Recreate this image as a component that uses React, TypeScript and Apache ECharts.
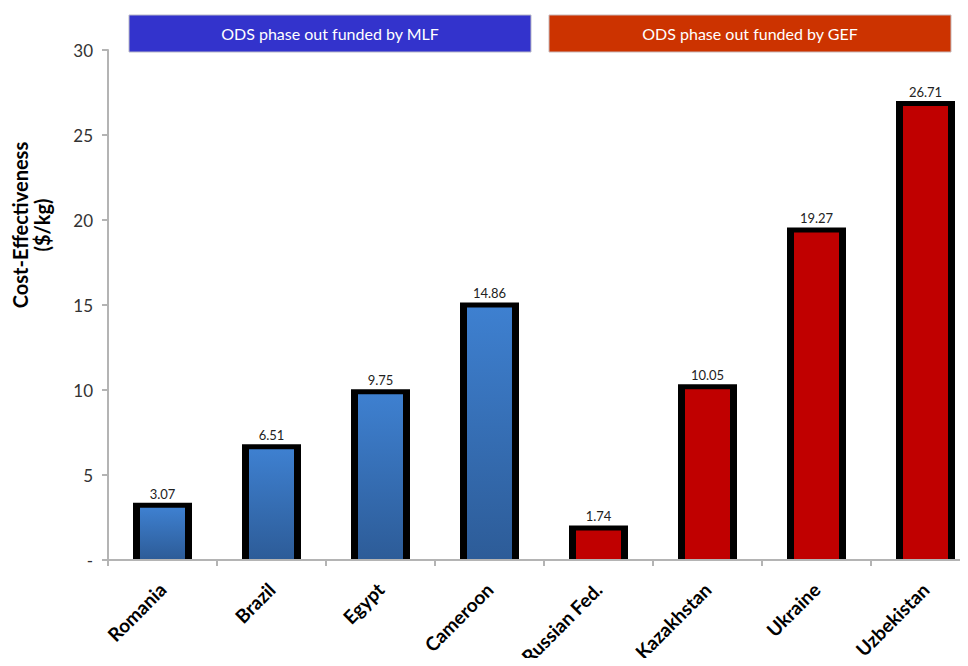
import React, { useEffect, useRef } from "react";
import * as echarts from "echarts";

const countries = ["Romania", "Brazil", "Egypt", "Cameroon", "Russian Fed.", "Kazakhstan", "Ukraine", "Uzbekistan"];
const costEffectiveness = [3.07, 6.51, 9.75, 14.86, 1.74, 10.05, 19.27, 26.71];
const fundingSource = ["MLF", "MLF", "MLF", "MLF", "GEF", "GEF", "GEF", "GEF"];
const bannerTexts = ["ODS phase out funded by MLF", "ODS phase out funded by GEF"];
const yTitle = "Cost-Effectiveness\n($/kg)";

const FONT = "Lato, 'Open Sans', sans-serif";

export default function App() {
  const ref = useRef<HTMLDivElement>(null);

  useEffect(() => {
    if (!ref.current) return;
    const chart = echarts.init(ref.current, null, { renderer: "svg" });

    const blueFill = () =>
      new echarts.graphic.LinearGradient(0, 0, 0, 1, [
        { offset: 0, color: "#3e80d0" },
        { offset: 1, color: "#2d5c98" },
      ]);
    const redFill = "#c00000";

    // Bars with a black frame on the left, top and right sides only
    const renderBar = (params: any, api: any) => {
      const idx = api.value(0);
      const v = api.value(1);
      const top = api.coord([idx, v]);
      const base = api.coord([idx, 0]);
      const outerW = 59;
      const frame = 7;
      const fill = fundingSource[params.dataIndex] === "MLF" ? blueFill() : redFill;
      return {
        type: "group",
        children: [
          {
            type: "rect",
            shape: { x: top[0] - outerW / 2, y: top[1] - 5, width: outerW, height: base[1] - top[1] + 6 },
            style: { fill: "#000000" },
          },
          {
            type: "rect",
            shape: {
              x: top[0] - outerW / 2 + frame,
              y: top[1],
              width: outerW - 2 * frame,
              height: base[1] - top[1] - 1,
            },
            style: { fill },
          },
          {
            type: "text",
            x: top[0],
            y: top[1] - 14,
            style: {
              text: v.toFixed(2),
              fill: "#222222",
              font: `13px ${FONT}`,
              align: "center",
              verticalAlign: "middle",
            },
          },
        ],
      };
    };

    chart.setOption({
      animation: false,
      backgroundColor: "#ffffff",
      grid: { left: 108, right: -12, top: 50, bottom: 106, containLabel: false, outerBoundsMode: "none" },
      graphic: [
        {
          type: "rect",
          shape: { x: 129, y: 15, width: 402, height: 37 },
          style: { fill: "#3333cc", stroke: "#b8b8c8", lineWidth: 1 },
          z: 10,
        },
        {
          type: "text",
          x: 330,
          y: 33.5,
          style: {
            text: bannerTexts[0],
            fill: "#ffffff",
            font: `16px ${FONT}`,
            align: "center",
            verticalAlign: "middle",
          },
          z: 11,
        },
        {
          type: "rect",
          shape: { x: 549, y: 15, width: 402, height: 37 },
          style: { fill: "#cc3300", stroke: "#c8b8b8", lineWidth: 1 },
          z: 10,
        },
        {
          type: "text",
          x: 750,
          y: 33.5,
          style: {
            text: bannerTexts[1],
            fill: "#ffffff",
            font: `16px ${FONT}`,
            align: "center",
            verticalAlign: "middle",
          },
          z: 11,
        },
        {
          type: "text",
          x: 31,
          y: 225,
          rotation: Math.PI / 2,
          style: {
            text: yTitle,
            fill: "#000000",
            font: `bold 20px ${FONT}`,
            lineHeight: 22,
            align: "center",
            verticalAlign: "middle",
          },
          z: 11,
        },
      ],
      xAxis: {
        type: "category",
        data: countries,
        z: 5,
        axisLine: { lineStyle: { color: "#b4b4b4", width: 2 } },
        axisTick: { show: true, alignWithLabel: false, length: 6, lineStyle: { color: "#b4b4b4", width: 2 } },
        axisLabel: {
          rotate: 45,
          margin: 26,
          interval: 0,
          color: "#000000",
          fontFamily: FONT,
          fontWeight: "bold",
          fontSize: 19,
        },
      },
      yAxis: {
        type: "value",
        min: 0,
        max: 30,
        interval: 5,
        splitLine: { show: false },
        axisLine: { show: true, lineStyle: { color: "#b4b4b4", width: 2 } },
        axisTick: { show: true, length: 6, lineStyle: { color: "#b4b4b4", width: 2 } },
        axisLabel: {
          margin: 15,
          color: "#333333",
          fontFamily: FONT,
          fontSize: 17,
          formatter: (v: number) => (v === 0 ? "-" : String(v)),
        },
      },
      series: [
        {
          type: "custom",
          renderItem: renderBar,
          encode: { x: 0, y: 1 },
          data: costEffectiveness.map((v, i) => [i, v]),
          z: 2,
        },
      ],
    });

    return () => chart.dispose();
  }, []);

  return <div ref={ref} style={{ width: 968, height: 666, margin: -8 }} />;
}
